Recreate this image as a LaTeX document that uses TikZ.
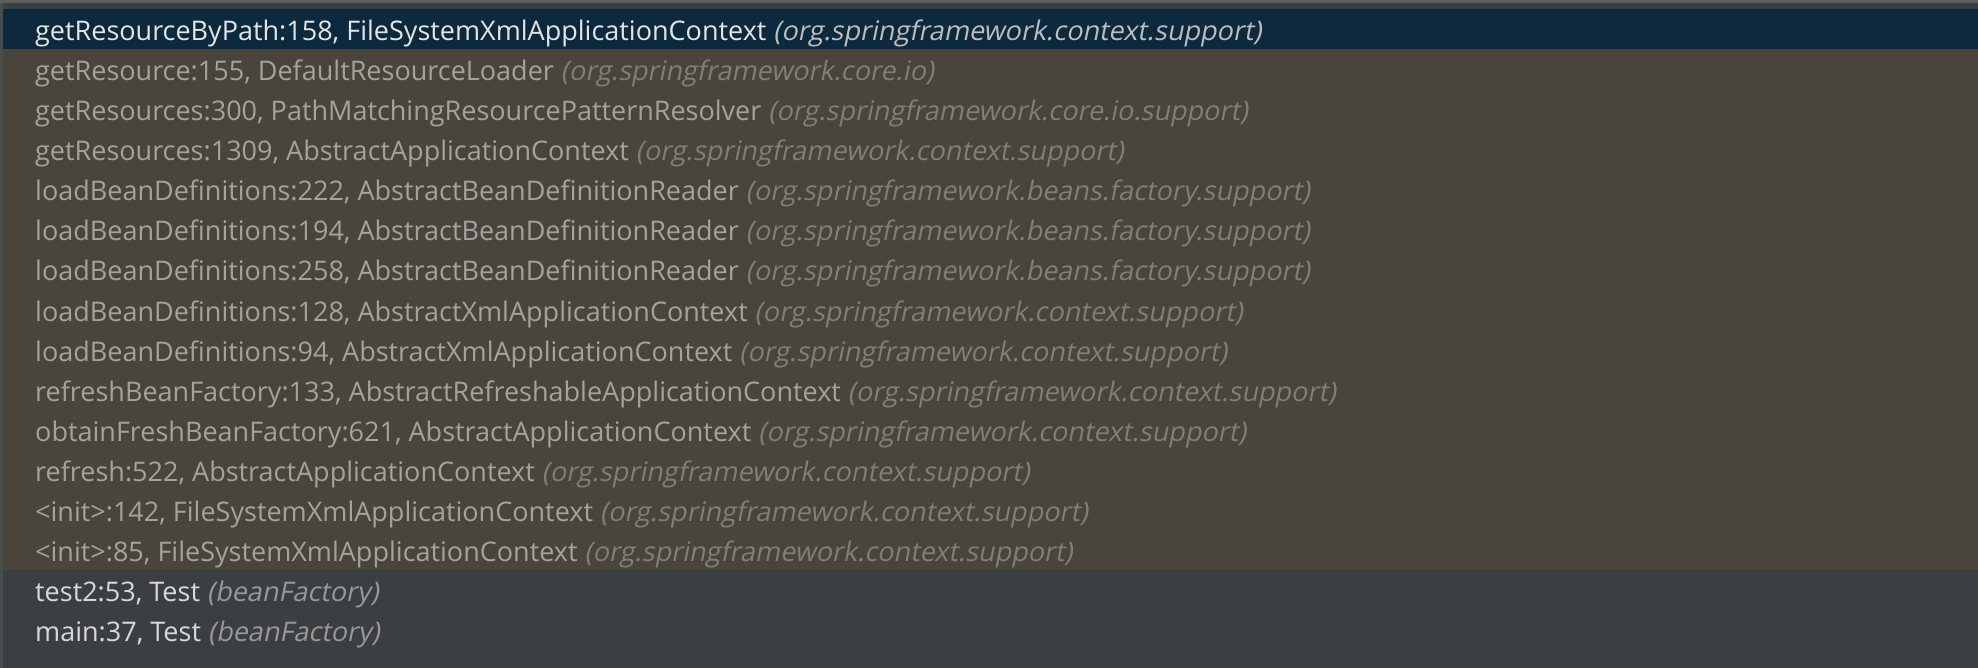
\documentclass[tikz,border=0pt]{standalone}
\usepackage{fontspec}
\setmainfont{Open Sans}
\newfontfamily\pkgfont[FakeSlant=0.2]{Open Sans}
\usepackage{xcolor}
\definecolor{panelgrey}{HTML}{3C3F41}
\definecolor{edgegrey}{HTML}{4A4D4F}
\definecolor{topline}{HTML}{5C5F61}
\definecolor{selnavy}{HTML}{0D293E}
\definecolor{libolive}{HTML}{49453A}
\definecolor{selfg}{HTML}{E4E4E4}
\definecolor{selpkg}{HTML}{BDBDBD}
\definecolor{libfg}{HTML}{A2A2A0}
\definecolor{libpkg}{HTML}{7E7E7B}
\definecolor{userfg}{HTML}{D8D8D8}
\definecolor{userpkg}{HTML}{989898}
\tikzset{frame/.style={anchor=base west, inner sep=0pt, font=\fontsize{27}{30}\selectfont}}

\begin{document}
\begin{tikzpicture}[x=1pt,y=-1pt] %call stack
\useasboundingbox (0,0) rectangle (1978,668);
\fill[panelgrey] (0,0) rectangle (1978,668);
\fill[topline] (0,0) rectangle (1978,3);
\fill[selnavy] (3,9) rectangle (1978,49);
\fill[libolive] (3,49) rectangle (1978,570);
\fill[edgegrey] (0,3) rectangle (3,668);
% selected frame
\node[frame, text=selfg] (sel) at (35,41) {getResourceByPath:158, FileSystemXmlApplicationContext {\pkgfont\color{selpkg}(org.springframework.context.support)}};
% library frames
\foreach \meth/\cls/\pkg [count=\i] in {getResource:155/DefaultResourceLoader/org.springframework.core.io,
  getResources:300/PathMatchingResourcePatternResolver/org.springframework.core.io.support,
  getResources:1309/AbstractApplicationContext/org.springframework.context.support,
  loadBeanDefinitions:222/AbstractBeanDefinitionReader/org.springframework.beans.factory.support,
  loadBeanDefinitions:194/AbstractBeanDefinitionReader/org.springframework.beans.factory.support,
  loadBeanDefinitions:258/AbstractBeanDefinitionReader/org.springframework.beans.factory.support,
  loadBeanDefinitions:128/AbstractXmlApplicationContext/org.springframework.context.support,
  loadBeanDefinitions:94/AbstractXmlApplicationContext/org.springframework.context.support,
  refreshBeanFactory:133/AbstractRefreshableApplicationContext/org.springframework.context.support,
  obtainFreshBeanFactory:621/AbstractApplicationContext/org.springframework.context.support,
  refresh:522/AbstractApplicationContext/org.springframework.context.support,
  <init>:142/FileSystemXmlApplicationContext/org.springframework.context.support,
  <init>:85/FileSystemXmlApplicationContext/org.springframework.context.support}
  \node[frame, text=libfg] (lib\i) at (35,{41+40*\i}) {\meth, \cls\ {\pkgfont\color{libpkg}(\pkg)}};
% user frames
\foreach \meth [count=\i] in {test2:53, main:37}
  \node[frame, text=userfg] (user\i) at (35,{561+40*\i}) {\meth, Test {\pkgfont\color{userpkg}(beanFactory)}};
\end{tikzpicture}
\end{document}
